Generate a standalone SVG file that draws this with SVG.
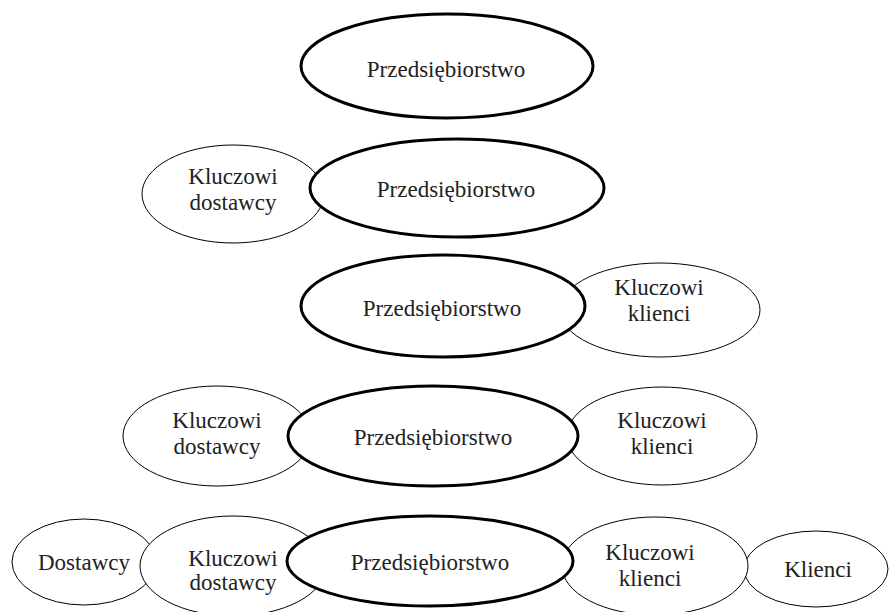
<svg xmlns="http://www.w3.org/2000/svg" width="890" height="612" viewBox="0 0 890 612">
  <style>
    .main { fill: #fff; stroke: #000; stroke-width: 3; }
    .side { fill: #fff; stroke: #000; stroke-width: 1; }
    text { font-family: "Liberation Serif", "Times New Roman", serif; font-size: 23px; fill: #222; text-anchor: middle; }
  </style>
  <rect width="890" height="612" fill="#fff"/>
  <g id="connectors"/>

  <!-- Row 1 -->
  <g id="r1-firm">
    <ellipse class="main" cx="447" cy="66" rx="146" ry="52"/>
    <text x="446" y="77">Przedsiębiorstwo</text>
  </g>

  <!-- Row 2 -->
  <g id="r2-key-suppliers">
    <ellipse class="side" cx="233" cy="194" rx="91" ry="49"/>
    <text x="233" y="184">Kluczowi</text>
    <text x="233" y="210">dostawcy</text>
  </g>
  <g id="r2-firm">
    <ellipse class="main" cx="457" cy="188" rx="147" ry="49"/>
    <text x="456" y="197">Przedsiębiorstwo</text>
  </g>

  <!-- Row 3 -->
  <g id="r3-key-customers">
    <ellipse class="side" cx="660" cy="310" rx="100" ry="47"/>
    <text x="659" y="295">Kluczowi</text>
    <text x="659" y="321">klienci</text>
  </g>
  <g id="r3-firm">
    <ellipse class="main" cx="443" cy="306" rx="142" ry="51"/>
    <text x="442" y="316">Przedsiębiorstwo</text>
  </g>

  <!-- Row 4 -->
  <g id="r4-key-suppliers">
    <ellipse class="side" cx="217" cy="436" rx="94" ry="50"/>
    <text x="217" y="428">Kluczowi</text>
    <text x="217" y="454">dostawcy</text>
  </g>
  <g id="r4-key-customers">
    <ellipse class="side" cx="662" cy="436" rx="95" ry="49"/>
    <text x="662" y="428">Kluczowi</text>
    <text x="662" y="454">klienci</text>
  </g>
  <g id="r4-firm">
    <ellipse class="main" cx="433" cy="436" rx="145" ry="50"/>
    <text x="433" y="445">Przedsiębiorstwo</text>
  </g>

  <!-- Row 5 -->
  <g id="r5-suppliers">
    <ellipse class="side" cx="84" cy="562" rx="72" ry="43"/>
    <text x="84" y="570">Dostawcy</text>
  </g>
  <g id="r5-key-suppliers">
    <ellipse class="side" cx="233" cy="566" rx="93" ry="50"/>
    <text x="233" y="566">Kluczowi</text>
    <text x="233" y="590">dostawcy</text>
  </g>
  <g id="r5-customers">
    <ellipse class="side" cx="816" cy="569" rx="72" ry="38"/>
    <text x="818" y="577">Klienci</text>
  </g>
  <g id="r5-key-customers">
    <ellipse class="side" cx="655" cy="566" rx="93" ry="49"/>
    <text x="650" y="560">Kluczowi</text>
    <text x="650" y="586">klienci</text>
  </g>
  <g id="r5-firm">
    <ellipse class="main" cx="430" cy="561" rx="143" ry="45"/>
    <text x="430" y="570">Przedsiębiorstwo</text>
  </g>
</svg>
